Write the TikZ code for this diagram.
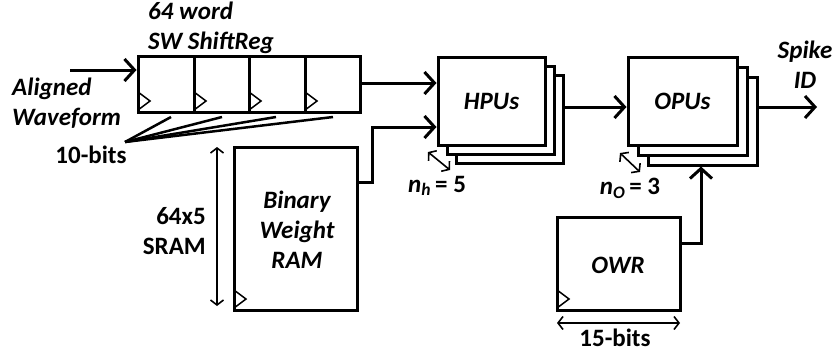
\documentclass[tikz,border=0pt]{standalone}
\usepackage{fontspec}
\setmainfont{Carlito}
\usetikzlibrary{arrows.meta}
\tikzset{
  thk/.style={line width=3pt},
  arr/.style={thk,-{Straight Barb[length=10pt,width=22pt]}},
  dbl/.style={line width=1.6pt,{Straight Barb[length=5pt,width=13pt]}-{Straight Barb[length=5pt,width=13pt]}},
  box/.style={draw,thk,fill=white,inner sep=0pt},
  clk/.style={line width=1.5pt},
  lbl/.style={font=\fontsize{25}{30}\selectfont\bfseries\itshape,inner sep=0pt,align=center},
  ulbl/.style={font=\fontsize{25}{30}\selectfont\bfseries,inner sep=0pt,align=center},
}
\begin{document}
\begin{tikzpicture}[x=1pt,y=-1pt]
\useasboundingbox (0,0) rectangle (837,356);
% shift register
\node[box,minimum width=222pt,minimum height=56pt] (sr) at (249,84) {};
\foreach \xx in {194,249,305}{\draw[thk] (\xx,56) -- (\xx,112);}
\foreach \xx in {138,194,249,305}{\draw[clk] (\xx,92) -- (\xx+12,101) -- (\xx,110);}
\node[lbl,align=left,anchor=west] (srl) at (148,28) {64 word\\SW ShiftReg};
% input
\coordinate (inA) at (70,70);
\draw[arr] (inA) -- (inA -| sr.west);
\node[lbl,align=left,anchor=west] (aw) at (12,103) {Aligned\\Waveform};
% 10-bits fan
\coordinate (fan) at (125,142);
\coordinate (b1) at (171,117);
\coordinate (b2) at (222,117);
\coordinate (b3) at (276,117);
\coordinate (b4) at (333,117);
\foreach \bb in {b1,b2,b3,b4}{\draw[line width=2.5pt] (fan) -- (\bb);}
\node[ulbl] (tb) at (91,155) {10-bits};
% RAM
\node[box,minimum width=123pt,minimum height=163pt] (ram) at (295.5,228.5) {};
\node[lbl] (ramt) at (297,230) {Binary\\Weight\\RAM};
\draw[clk] (234,290) -- (246,299) -- (234,308);
\coordinate (rt) at (217,147);
\coordinate (rb) at (217,306);
\draw[dbl] (rt) -- (rb);
\node[ulbl,align=right,anchor=east] (sram) at (206,231) {64x5\\SRAM};
% HPUs
\node[box,minimum width=107pt,minimum height=88pt] (hpu3) at (509.5,119) {};
\node[box,minimum width=107pt,minimum height=88pt] (hpu2) at (500.5,110) {};
\node[box,minimum width=107pt,minimum height=88pt,lbl] (hpu) at (491.5,101) {HPUs};
\draw[arr] (sr.east |- 0,83) -- (hpu.west |- 0,83);
\coordinate (r1) at (372,182);
\coordinate (r2) at (372,127);
\draw[arr] (ram.east |- r1) -- (r1) -- (r2) -- (hpu.west |- r2);
\coordinate (h1) at (428,152);
\coordinate (h2) at (450,170);
\draw[dbl] (h1) -- (h2);
\node[ulbl] (nh) at (437,186) {\textit{n\textsubscript{h}}\,= 5};
% OPUs
\node[box,minimum width=109pt,minimum height=88pt] (opu3) at (702.5,121) {};
\node[box,minimum width=109pt,minimum height=88pt] (opu2) at (692.5,111) {};
\node[box,minimum width=109pt,minimum height=88pt,lbl] (opu) at (682.5,101) {OPUs};
\draw[arr] (hpu3.east |- 0,107) -- (opu.west |- 0,107);
\coordinate (o1) at (620,153);
\coordinate (o2) at (640,172);
\draw[dbl] (o1) -- (o2);
\node[ulbl] (no) at (630,188) {\textit{n\textsubscript{O}}\,= 3};
% output
\coordinate (out) at (817,107);
\draw[arr] (opu3.east |- out) -- (out);
\node[lbl] (sid) at (805,65) {Spike\\ID};
% OWR
\node[box,minimum width=123pt,minimum height=93pt] (owr) at (618.5,263.5) {};
\node[lbl] (owrt) at (618,265) {OWR};
\draw[clk] (557,290) -- (569,299) -- (557,308);
\coordinate (w1) at (701,243);
\draw[arr] (owr.east |- w1) -- (w1) -- (w1 |- opu3.south);
\coordinate (l1) at (557,323);
\coordinate (l2) at (680,323);
\draw[dbl] (l1) -- (l2);
\node[ulbl] (fb) at (615,338) {15-bits};
\end{tikzpicture}
\end{document}
